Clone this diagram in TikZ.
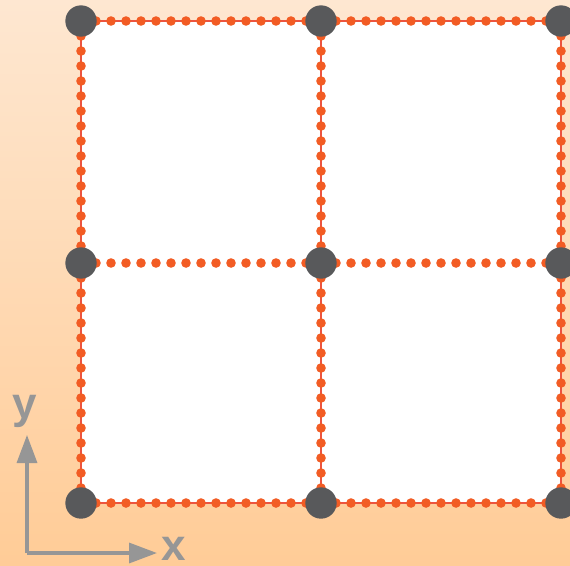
\documentclass[tikz,border=0pt]{standalone}
\usepackage{fontspec}
\setsansfont{Liberation Sans}
\usetikzlibrary{arrows.meta}
\definecolor{bgtop}{RGB}{254,231,209}
\definecolor{bgbottom}{RGB}{255,204,151}
\definecolor{dotorange}{RGB}{242,92,36}
\definecolor{linkred}{RGB}{236,84,64}
\definecolor{vertexgray}{RGB}{88,89,91}
\definecolor{axisgray}{RGB}{150,150,150}
\pgfdeclarelayer{back}
\pgfsetlayers{back,main}
\tikzset{
  vertex/.style={circle, fill=vertexgray, minimum size=23.5pt, inner sep=0pt},
  dots/.style={draw=dotorange, line width=7.2pt, line cap=round, dash pattern=on 0pt off 11.25pt},
  link/.style={draw=linkred, line width=1.1pt, postaction={dots}},
  axis/.style={draw=axisgray, line width=2.5pt, -{Triangle[length=21pt, width=15pt]}},
  axislabel/.style={text=axisgray, font=\sffamily\bfseries\fontsize{33}{33}\selectfont, anchor=base, inner sep=0pt},
}

\begin{document}
\begin{tikzpicture}[x=0.75pt, y=-0.75pt]
  \useasboundingbox (0,0) rectangle (570,565);

  \node[vertex] (tl) at (81,21) {};
  \node[vertex] (tm) at (321,21) {};
  \node[vertex] (tr) at (561,21) {};
  \node[vertex] (ml) at (81,263) {};
  \node[vertex] (mm) at (321,263) {};
  \node[vertex] (mr) at (561,263) {};
  \node[vertex] (bl) at (81,503) {};
  \node[vertex] (bm) at (321,503) {};
  \node[vertex] (br) at (561,503) {};

  \begin{pgfonlayer}{back}
    \shade[top color=bgtop, bottom color=bgbottom] (0,0) rectangle (570,565);
    \fill[white] (tl.center) rectangle (br.center);

    % outer frame and middle column
    \path[link] (tl.center) -- (tm.center);
    \path[link] (tm.center) -- (tr.center);
    \path[link] (bl.center) -- (bm.center);
    \path[link] (bm.center) -- (br.center);
    \path[link] (tl.center) -- (ml.center);
    \path[link] (ml.center) -- (bl.center);
    \path[link] (tm.center) -- (mm.center);
    \path[link] (mm.center) -- (bm.center);
    \path[link] (tr.center) -- (mr.center);
    \path[link] (mr.center) -- (br.center);

    % middle row, dots only
    \path[dots] (ml.center) -- (mm.center);
    \path[dots] (mm.center) -- (mr.center);
  \end{pgfonlayer}

  % axes
  \coordinate (origin) at (27,553);
  \coordinate (xend) at (157,553);
  \coordinate (yend) at (27,435);
  \draw[axis] (origin) -- (xend);
  \draw[axis] (origin) -- (yend);
  \node[axislabel] (xlabel) at (174,560) {x};
  \node[axislabel] (ylabel) at (25,418) {y};
\end{tikzpicture}
\end{document}
